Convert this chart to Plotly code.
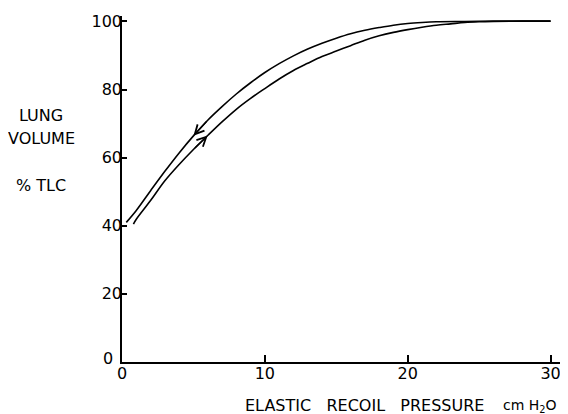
import plotly.graph_objects as go

# Deflation limb (upper curve), pressure cm H2O vs lung volume % TLC
defl_p = [0.3, 1, 2, 3, 4, 5, 6, 7, 8, 9, 10, 11, 12, 13, 14, 15, 16, 17, 18, 19, 20, 21, 22, 24, 26, 28, 30]
defl_v = [41.0, 44.5, 50.3, 56.0, 61.4, 66.4, 71.0, 75.0, 78.7, 82.0, 85.0, 87.6, 89.9, 91.9, 93.6, 95.1,
          96.4, 97.4, 98.2, 98.9, 99.4, 99.7, 99.9, 100.0, 100.1, 100.1, 100.1]

# Inflation limb (lower curve)
infl_p = [0.8, 1, 2, 3, 4, 5, 6, 7, 8, 9, 10, 11, 12, 13, 14, 15, 16, 17, 18, 19, 20, 21, 22, 23, 24, 25, 26, 28, 30]
infl_v = [40.5, 41.9, 47.4, 53.2, 58.0, 62.4, 66.5, 70.5, 74.2, 77.4, 80.3, 83.1, 85.6, 87.7, 89.7, 91.3,
          92.9, 94.5, 95.8, 96.8, 97.6, 98.3, 98.9, 99.3, 99.7, 99.9, 100.0, 100.1, 100.1]

x_ticks = [0, 10, 20, 30]
y_ticks = [0, 20, 40, 60, 80, 100]

FONT = "DejaVu Sans"

fig = go.Figure()
fig.add_trace(go.Scatter(x=defl_p, y=defl_v, mode="lines", line=dict(color="black", width=1.6, shape="spline"),
                         showlegend=False, hoverinfo="skip"))
fig.add_trace(go.Scatter(x=infl_p, y=infl_v, mode="lines", line=dict(color="black", width=1.6, shape="spline"),
                         showlegend=False, hoverinfo="skip"))

# direction arrows taken from the curve arrays
i_d = defl_p.index(5)
i_i = infl_p.index(6)
arrow_common = dict(text="", showarrow=True, arrowhead=5, arrowsize=1.3, arrowwidth=1.4,
                    arrowcolor="black", xref="x", yref="y", axref="x", ayref="y", standoff=0)
fig.add_annotation(x=defl_p[i_d], y=defl_v[i_d], ax=defl_p[i_d + 1], ay=defl_v[i_d + 1], **arrow_common)
fig.add_annotation(x=infl_p[i_i], y=infl_v[i_i], ax=infl_p[i_i - 1], ay=infl_v[i_i - 1], **arrow_common)

lab_font = dict(family=FONT, size=16, color="black")
for txt, yy in [("LUNG", 0.711), ("VOLUME", 0.646), ("% TLC", 0.511)]:
    fig.add_annotation(text=txt, xref="paper", yref="paper", x=-0.184, y=yy, showarrow=False,
                       xanchor="center", yanchor="middle", font=lab_font)
fig.add_annotation(text="ELASTIC   RECOIL   PRESSURE", xref="paper", yref="paper", x=0.55, y=-0.126,
                   showarrow=False, xanchor="center", yanchor="middle", font=lab_font)
fig.add_annotation(text="cm H<sub>2</sub>O", xref="paper", yref="paper", x=0.862, y=-0.126,
                   showarrow=False, xanchor="left", yanchor="middle",
                   font=dict(family=FONT, size=14, color="black"))
# the y-axis "0" sits a little higher and further left than the other labels
fig.add_annotation(text=str(y_ticks[0]), xref="paper", yref="y", x=-0.016, y=y_ticks[0], yshift=4,
                   showarrow=False, xanchor="right", yanchor="middle", font=lab_font)

axis_common = dict(showline=True, linecolor="black", linewidth=1.5, ticks="inside", tickcolor="black",
                   tickwidth=1.5, showgrid=False, zeroline=False, tickfont=dict(family=FONT, size=16, color="black"))
fig.update_xaxes(range=[0, 30.8], tickvals=x_ticks, ticklen=7, ticklabelstandoff=-4, **axis_common)
fig.update_yaxes(range=[0, 101.6], tickvals=y_ticks[1:], ticklen=5, ticklabelstandoff=-5, **axis_common)

# page body has an 8px margin, so the figure is sized to fill the remaining window
fig.update_layout(width=560, height=406, margin=dict(l=114, r=6, t=4, b=52),
                  paper_bgcolor="white", plot_bgcolor="white", showlegend=False)

fig.write_html("out.html")
